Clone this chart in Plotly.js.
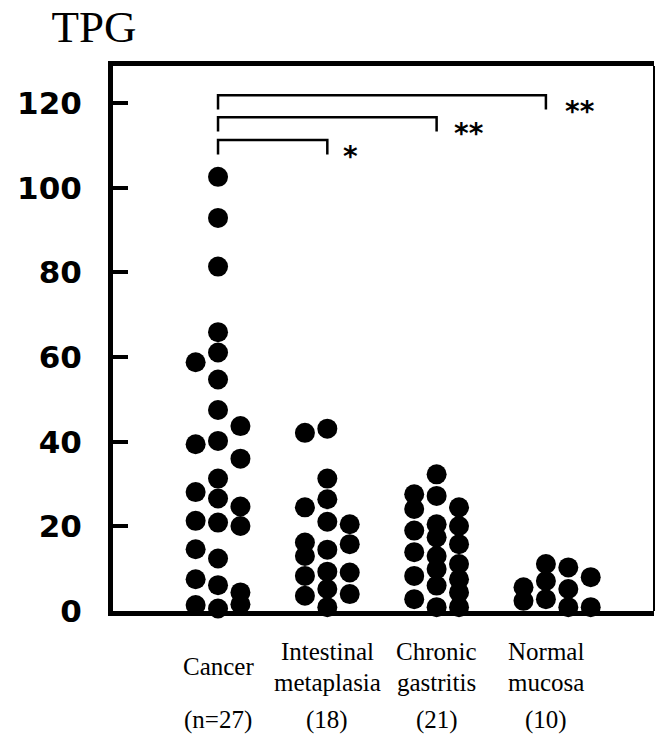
<!DOCTYPE html>
<html>
<head>
<meta charset="utf-8">
<script src="https://cdn.plot.ly/plotly-3.0.1.min.js"></script>
<style>html,body{margin:0;padding:0;background:#fff;}#chart{width:657px;height:738px;}</style>
</head>
<body>
<div id="chart"></div>
<script>
// ---- data ----
const categories = ['Cancer', 'Intestinal metaplasia', 'Chronic gastritis', 'Normal mucosa'];
const categoryLines = [['Cancer'], ['Intestinal', 'metaplasia'], ['Chronic', 'gastritis'], ['Normal', 'mucosa']];
const groupCounts = ['(n=27)', '(18)', '(21)', '(10)'];
const yTicks = [0, 20, 40, 60, 80, 100, 120];

// Cancer (n=27), by dot column (left, middle, right)
const cancerLeft  = [58.8, 39.4, 28.1, 21.3, 14.6, 7.5, 1.4];
const cancerMid   = [102.6, 92.9, 81.4, 65.9, 61.1, 54.7, 47.5, 40.2, 31.3, 26.6, 20.9, 12.4, 6.1, 0.6];
const cancerRight = [43.7, 36.0, 24.7, 20.1, 4.4, 1.6];

// Intestinal metaplasia (18)
const imLeft  = [42.1, 24.5, 16.2, 13.0, 8.3, 3.6];
const imMid   = [43.1, 31.3, 26.4, 21.1, 14.5, 9.3, 5.2, 0.9];
const imRight = [20.5, 15.8, 9.1, 4.0];

// Chronic gastritis (21)
const cgLeft  = [27.6, 24.1, 19.0, 13.9, 8.3, 2.8];
const cgMid   = [32.3, 27.2, 20.5, 17.4, 13.0, 9.9, 6.0, 0.9];
const cgRight = [24.5, 20.1, 15.8, 11.1, 7.5, 4.4, 0.9];

// Normal mucosa (10)
const nmCol1 = [5.6, 2.4];
const nmCol2 = [11.1, 7.1, 2.8];
const nmCol3 = [10.3, 5.2, 0.9];
const nmCol4 = [8.0, 0.9];

// significance brackets: [from group, to group, label]
const comparisons = [[0, 1, '*'], [0, 2, '**'], [0, 3, '**']];

// ---- build ----
const groups = [
  [cancerLeft, cancerMid, cancerRight],
  [imLeft, imMid, imRight],
  [cgLeft, cgMid, cgRight],
  [nmCol1, nmCol2, nmCol3, nmCol4]
];
const colStep = 0.205;
const traces = [];
groups.forEach((cols, gi) => {
  const xs = [], ys = [];
  cols.forEach((col, ci) => {
    col.forEach(v => { xs.push(gi + 1 + (ci - 1) * colStep); ys.push(v); });
  });
  traces.push({
    type: 'scatter', mode: 'markers', name: categories[gi], x: xs, y: ys,
    marker: {color: '#000', size: 20, line: {width: 0}},
    cliponaxis: false, hoverinfo: 'skip', showlegend: false
  });
});

const shapes = [];
const annotations = [];
const bracketBase = [111.3, 116.7, 121.9];
const starOffset = [0.21, 0.3, 0.31];
const legLen = 3.4;
comparisons.forEach((c, i) => {
  const x0 = c[0] + 1, x1 = c[1] + 1, yb = bracketBase[i];
  shapes.push({type: 'path', xref: 'x', yref: 'y',
    path: `M ${x0},${yb - legLen} L ${x0},${yb} L ${x1},${yb} L ${x1},${yb - legLen}`,
    line: {color: '#000', width: 2.5}});
  annotations.push({xref: 'x', yref: 'y', x: x1 + starOffset[i], y: yb - 2.2, text: c[2],
    showarrow: false, xanchor: 'center', yanchor: 'middle', yshift: -7,
    font: {family: 'DejaVu Sans', size: 28, color: '#000', weight: 'bold'}});
});
// right frame border (thin)
shapes.push({type: 'line', xref: 'paper', yref: 'paper', x0: 1, x1: 1, y0: 0, y1: 1,
  line: {color: '#000', width: 2}});

// plot area spans pixel rows 66..611 (545 px)
const pxToPaper = py => (611 - py) / 545;
const labelFont = {family: 'Liberation Serif', size: 25, color: '#000'};
categoryLines.forEach((lines, i) => {
  const rows = lines.length === 1 ? [666] : [651, 682];
  lines.forEach((t, li) => {
    annotations.push({xref: 'x', yref: 'paper', x: i + 1, y: pxToPaper(rows[li]), text: t,
      showarrow: false, xanchor: 'center', yanchor: 'middle', font: labelFont});
  });
  annotations.push({xref: 'x', yref: 'paper', x: i + 1, y: pxToPaper(720), text: groupCounts[i],
    showarrow: false, xanchor: 'center', yanchor: 'middle', font: labelFont});
});

const layout = {
  width: 657, height: 738,
  margin: {l: 113, r: 3, t: 66, b: 127},
  paper_bgcolor: '#fff', plot_bgcolor: '#fff',
  title: {text: 'TPG', xref: 'container', yref: 'container', x: 94 / 657, y: 1 - 26 / 738,
    xanchor: 'center', yanchor: 'middle',
    font: {family: 'Liberation Serif', size: 45, color: '#000'}},
  xaxis: {range: [0.039, 4.989], showgrid: false, zeroline: false, showticklabels: false,
    ticks: '', showline: true, linecolor: '#000', linewidth: 5, mirror: true, fixedrange: true},
  yaxis: {range: [0, 128.8], showgrid: false, zeroline: false, tickvals: yTicks,
    ticktext: yTicks.map(String), ticks: 'inside', ticklen: 15, tickwidth: 4, tickcolor: '#000',
    showline: true, linecolor: '#000', linewidth: 5, mirror: false, ticklabelstandoff: 20,
    tickfont: {family: 'DejaVu Sans', size: 31, color: '#000', weight: 'bold'}, fixedrange: true},
  shapes: shapes,
  annotations: annotations
};

Plotly.newPlot('chart', traces, layout, {displayModeBar: false, staticPlot: true});
</script>
</body>
</html>
